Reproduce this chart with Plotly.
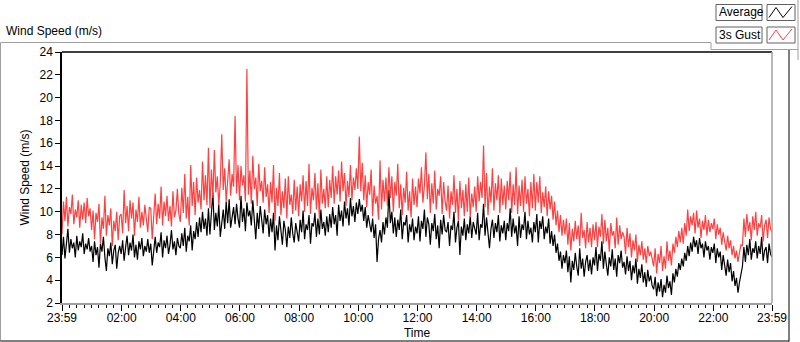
import pandas as pd
import plotly.graph_objects as go

# ---- data (3-minute samples), 23:59 -> 23:59, one row per hour ----
avg_h = [
    [6.2, 7.8, 5.9, 7.1, 8.5, 6.4, 7.6, 6.8, 7.3, 6.0, 7.9, 6.6, 7.4, 6.9, 8.1, 6.3, 7.2, 6.7, 7.7, 6.5],
    [7.0, 5.6, 7.4, 6.2, 6.9, 5.1, 7.2, 6.5, 7.8, 6.0, 4.8, 6.8, 6.1, 7.3, 5.4, 6.6, 7.1, 5.0, 6.4, 7.0],
    [6.3, 7.5, 5.7, 6.9, 7.9, 6.2, 7.3, 6.6, 8.0, 6.0, 7.1, 5.8, 7.4, 6.7, 7.7, 6.1, 7.0, 6.5, 7.6, 6.4],
    [7.2, 5.3, 6.6, 7.8, 6.4, 7.3, 6.9, 8.2, 6.0, 7.5, 6.8, 7.9, 6.3, 7.1, 8.4, 6.7, 7.4, 6.2, 7.7, 7.0],
    [6.8, 8.1, 7.0, 8.6, 6.5, 7.9, 7.4, 8.8, 6.6, 8.3, 7.6, 9.1, 7.8, 9.5, 8.2, 10.0, 8.5, 9.4, 7.9, 10.3],
    [8.0, 9.6, 11.7, 8.4, 9.9, 8.7, 10.6, 7.8, 9.3, 10.2, 8.5, 10.9, 9.0, 11.1, 8.6, 9.8, 10.4, 8.9, 10.7, 9.4],
    [8.6, 11.4, 9.1, 10.3, 8.3, 10.8, 9.6, 10.1, 8.8, 11.0, 9.3, 7.6, 9.9, 8.5, 10.5, 9.0, 8.1, 10.2, 8.9, 9.7],
    [7.8, 9.4, 8.2, 9.9, 6.6, 8.8, 7.5, 9.6, 8.0, 7.1, 9.2, 8.4, 6.9, 8.7, 7.7, 9.5, 8.1, 7.3, 9.0, 8.3],
    [7.4, 9.3, 8.2, 10.1, 7.6, 8.9, 8.4, 9.7, 7.2, 9.0, 8.7, 9.9, 7.8, 9.4, 8.0, 10.2, 8.5, 9.1, 7.9, 9.6],
    [8.2, 9.8, 8.6, 10.4, 8.9, 9.7, 7.9, 10.6, 9.2, 10.1, 8.7, 10.9, 9.4, 10.3, 8.8, 11.2, 9.6, 10.5, 9.1, 10.8],
    [9.8, 11.1, 10.0, 10.6, 9.2, 10.4, 8.6, 9.7, 9.0, 8.2, 9.4, 7.7, 8.9, 5.6, 7.6, 8.4, 7.3, 9.1, 8.0, 9.5],
    [8.6, 11.9, 9.0, 10.0, 8.1, 9.5, 7.8, 9.3, 8.4, 10.2, 7.6, 9.1, 8.8, 9.7, 7.3, 8.9, 8.2, 9.4, 7.5, 8.7],
    [8.1, 9.6, 7.4, 9.2, 8.5, 10.2, 7.8, 9.5, 8.9, 7.1, 9.0, 8.3, 9.8, 7.6, 8.8, 6.8, 9.3, 8.0, 9.7, 8.4],
    [8.2, 9.1, 7.0, 8.8, 8.4, 10.0, 7.3, 8.6, 9.2, 6.2, 8.7, 7.9, 9.4, 7.5, 8.9, 8.1, 9.6, 7.7, 9.1, 8.5],
    [8.0, 9.9, 7.5, 8.9, 8.6, 10.7, 7.9, 9.5, 8.3, 6.8, 8.5, 9.3, 7.7, 9.0, 8.2, 9.7, 7.4, 8.8, 8.1, 9.2],
    [7.5, 9.0, 8.3, 10.3, 7.8, 9.4, 8.1, 8.8, 7.0, 9.6, 7.7, 8.9, 8.4, 10.0, 7.6, 9.2, 8.0, 8.6, 7.3, 9.1],
    [8.2, 9.8, 7.3, 9.2, 8.5, 9.6, 7.6, 8.7, 8.1, 9.4, 7.2, 8.3, 7.0, 8.0, 6.4, 7.2, 5.7, 6.5, 5.0, 6.2],
    [5.5, 6.6, 4.7, 6.1, 3.8, 5.7, 4.9, 6.4, 5.2, 4.4, 6.8, 5.0, 5.9, 4.3, 5.6, 6.2, 4.8, 5.8, 4.5, 6.0],
    [5.3, 6.9, 4.8, 6.3, 5.7, 7.4, 5.0, 6.5, 5.4, 4.4, 6.0, 5.2, 6.7, 4.9, 5.9, 4.3, 6.2, 5.5, 6.6, 5.1],
    [5.6, 4.5, 6.1, 4.8, 5.7, 4.0, 5.3, 4.6, 5.9, 3.7, 5.0, 4.2, 5.4, 3.8, 4.7, 3.4, 4.9, 3.9, 4.4, 3.5],
    [3.2, 4.3, 2.6, 3.8, 3.0, 4.1, 2.5, 3.6, 2.9, 4.4, 3.3, 3.9, 2.7, 4.6, 3.8, 5.0, 4.3, 5.5, 4.9, 5.9],
    [5.2, 6.4, 5.7, 7.0, 6.1, 7.3, 6.5, 7.8, 6.9, 7.5, 6.3, 7.7, 6.8, 7.2, 6.0, 7.4, 6.6, 7.0, 5.8, 6.9],
    [6.4, 7.2, 5.5, 6.8, 6.0, 6.5, 4.9, 6.2, 5.3, 4.4, 5.8, 4.7, 5.5, 3.9, 4.8, 3.5, 4.2, 2.9, 3.8, 4.6],
    [5.2, 6.9, 5.6, 7.1, 6.2, 7.6, 5.8, 6.8, 6.4, 7.4, 5.9, 7.0, 6.3, 7.8, 5.7, 6.6, 6.9, 5.5, 7.2, 6.3],
]
avg_last = 6.0

gust_h = [
    [8.0, 10.9, 9.2, 11.3, 8.7, 10.4, 9.8, 11.5, 8.9, 10.2, 9.5, 11.0, 8.6, 10.6, 9.3, 10.8, 9.0, 11.2, 9.6, 10.3],
    [8.4, 10.1, 7.6, 9.9, 9.1, 10.7, 7.2, 9.5, 8.5, 11.4, 7.9, 9.7, 8.8, 10.3, 7.0, 9.2, 8.3, 10.0, 7.5, 9.6],
    [9.8, 8.1, 11.9, 9.0, 10.5, 8.3, 11.0, 9.4, 10.8, 7.9, 10.2, 9.1, 11.3, 8.6, 10.0, 8.8, 10.6, 9.3, 8.2, 10.4],
    [10.3, 7.6, 9.9, 11.6, 8.9, 10.7, 9.4, 12.2, 8.8, 10.9, 9.6, 11.4, 9.2, 10.5, 8.7, 11.8, 9.5, 10.1, 12.0, 9.8],
    [9.1, 12.1, 9.9, 13.3, 9.4, 11.3, 8.8, 14.1, 10.5, 12.6, 9.7, 13.0, 10.8, 11.9, 10.2, 14.4, 11.0, 13.2, 10.6, 15.6],
    [10.3, 13.7, 11.2, 15.4, 11.7, 13.1, 10.6, 12.5, 16.8, 11.9, 13.8, 10.9, 12.7, 14.6, 11.4, 13.3, 12.2, 18.4, 11.6, 14.1],
    [11.0, 14.0, 12.3, 13.2, 10.9, 22.5, 11.5, 13.6, 10.7, 14.9, 12.0, 13.0, 10.5, 14.2, 11.8, 12.7, 10.8, 13.9, 11.3, 12.4],
    [9.9, 12.6, 10.8, 14.1, 9.2, 12.1, 10.5, 13.4, 9.7, 11.8, 10.3, 12.9, 9.4, 13.1, 10.6, 11.5, 9.8, 12.8, 10.1, 12.2],
    [9.6, 12.4, 10.9, 13.2, 10.0, 12.7, 10.5, 14.2, 9.8, 12.1, 11.0, 13.4, 10.2, 12.5, 9.4, 13.7, 10.7, 12.0, 10.3, 13.1],
    [10.4, 12.8, 11.2, 14.0, 10.7, 13.1, 11.5, 13.6, 10.9, 14.4, 11.8, 13.4, 10.5, 12.7, 11.3, 14.1, 11.0, 13.0, 11.9, 13.8],
    [12.0, 16.6, 11.8, 14.3, 11.0, 13.2, 10.4, 12.6, 11.5, 13.7, 9.6, 12.3, 10.7, 11.4, 9.3, 14.5, 10.2, 12.8, 10.9, 13.0],
    [10.5, 13.9, 11.2, 13.1, 10.0, 12.6, 11.4, 14.2, 10.3, 12.4, 9.7, 12.1, 10.8, 13.5, 10.1, 11.8, 9.5, 12.9, 10.6, 12.2],
    [10.4, 12.9, 11.6, 13.9, 10.8, 12.3, 15.2, 11.1, 13.3, 9.9, 12.5, 10.7, 13.6, 10.2, 12.0, 11.4, 13.1, 9.8, 12.6, 10.9],
    [10.1, 12.3, 9.4, 11.8, 10.6, 13.2, 9.9, 12.0, 9.2, 12.7, 10.3, 11.9, 9.6, 12.4, 10.0, 13.0, 9.5, 11.6, 10.4, 12.2],
    [10.0, 13.1, 10.9, 12.6, 11.2, 15.8, 10.4, 13.4, 9.7, 12.2, 10.8, 13.8, 10.1, 12.5, 11.0, 13.2, 9.9, 12.9, 10.6, 12.3],
    [10.2, 12.7, 11.0, 13.5, 9.9, 12.4, 10.6, 13.9, 9.8, 12.3, 10.5, 12.8, 10.0, 13.1, 10.7, 12.0, 9.6, 12.6, 10.3, 13.3],
    [10.1, 12.6, 10.8, 13.1, 9.9, 11.7, 10.4, 12.2, 9.6, 11.8, 10.2, 11.4, 9.3, 10.9, 8.8, 10.1, 8.2, 9.7, 7.9, 9.3],
    [8.0, 9.4, 7.1, 9.0, 6.6, 8.5, 7.4, 9.2, 7.6, 8.8, 7.0, 9.9, 7.7, 8.4, 6.8, 9.1, 7.3, 8.6, 6.9, 8.9],
    [7.5, 9.1, 6.9, 8.7, 7.8, 9.8, 7.2, 9.3, 7.4, 8.6, 6.5, 9.0, 7.9, 8.3, 6.8, 9.5, 7.1, 8.8, 7.6, 8.2],
    [7.8, 6.3, 8.6, 6.9, 8.1, 6.0, 7.5, 6.6, 8.0, 5.6, 7.1, 6.2, 7.4, 5.8, 6.8, 5.5, 7.0, 6.1, 6.5, 5.7],
    [5.2, 6.8, 4.6, 6.3, 5.5, 7.0, 4.8, 6.1, 5.0, 7.4, 5.7, 6.6, 5.3, 7.2, 6.4, 7.8, 6.9, 8.3, 7.3, 8.6],
    [7.2, 9.0, 7.9, 10.2, 8.3, 9.6, 8.8, 9.9, 8.1, 10.1, 8.6, 9.4, 7.7, 9.2, 8.4, 9.7, 7.9, 9.3, 8.2, 9.0],
    [8.5, 9.4, 7.6, 8.9, 8.0, 8.6, 7.1, 8.2, 7.4, 6.6, 7.9, 6.8, 7.5, 6.2, 7.0, 5.9, 6.6, 5.6, 6.4, 7.1],
    [7.0, 9.4, 7.8, 9.8, 8.3, 9.1, 7.5, 9.6, 8.4, 10.0, 7.9, 9.0, 8.6, 9.7, 7.4, 8.8, 9.3, 7.7, 9.5, 8.5],
]
gust_last = 8.2

avg_values = [v for h in avg_h for v in h] + [avg_last]
gust_values = [v for h in gust_h for v in h] + [gust_last]

series_names = ["Average", "3s Gust"]
y_ticks = list(range(2, 25, 2))
x_tick_labels = ["23:59", "02:00", "04:00", "06:00", "08:00", "10:00", "12:00",
                 "14:00", "16:00", "18:00", "20:00", "22:00", "23:59"]

start = pd.Timestamp("2024-01-01 23:59")
end = pd.Timestamp("2024-01-02 23:59")
times = pd.date_range(start, periods=len(avg_values), freq="3min")

major = [start] + [pd.Timestamp("2024-01-02") + pd.Timedelta(hours=h) for h in range(2, 24, 2)] + [end]
minor = []
t = start + pd.Timedelta(minutes=15)
while t < end:
    if min(abs((t - m).total_seconds()) for m in major) > 240:
        minor.append(t)
    t += pd.Timedelta(minutes=15)

# ---- layout geometry ----
W, H = 800, 342
L, R, T, B = 62, 772, 52, 303
pw, ph = R - L, B - T


def px(x):
    return (x - L) / pw


def py(y):
    return (B - y) / ph


FONT = "Liberation Sans"

fig = go.Figure()
fig.add_trace(go.Scatter(x=times, y=avg_values, mode="lines", name=series_names[0],
                         line=dict(color="#000000", width=1.2)))
fig.add_trace(go.Scatter(x=times, y=gust_values, mode="lines", name=series_names[1],
                         line=dict(color="#ff4040", width=1.2)))

shapes = []


def line(x0, y0, x1, y1, color, width=1):
    shapes.append(dict(type="line", xref="paper", yref="paper",
                       x0=px(x0), y0=py(y0), x1=px(x1), y1=py(y1),
                       line=dict(color=color, width=width), layer="above"))


# outer frame
line(0.5, 42.5, 711, 42.5, "#a0a0a0")
line(0.5, 42.5, 0.5, 341.5, "#a0a0a0")
line(0.5, 341, 789, 341, "#000000")
line(789, 49, 789, 341.5, "#000000")
# legend panel
line(711, 42.5, 711, 49.5, "#a0a0a0")
line(711, 49.5, 798, 49.5, "#a0a0a0")
line(798, 0, 798, 60, "#a0a0a0")
# plot-area frame (top black, right gray)
line(L, T, R, T, "#000000", 1.5)
line(R, T, R, B, "#a0a0a0", 1.5)

# legend boxes
annotations = []
for i, (name, color) in enumerate(zip(series_names, ["#000000", "#ff4040"])):
    y0 = 4.5 + i * 22.5
    y1 = y0 + 16
    for (a, b) in [(716, 762), (767, 795)]:
        shapes.append(dict(type="rect", xref="paper", yref="paper",
                           x0=px(a), x1=px(b), y0=py(y1), y1=py(y0),
                           line=dict(color="#606060", width=1), fillcolor="white", layer="above"))
    pts = [(769, y1 - 3), (776, y0 + 3), (783, y1 - 3), (792, y0 + 2)]
    path = "M " + " L ".join(f"{px(a)},{py(b)}" for a, b in pts)
    shapes.append(dict(type="path", xref="paper", yref="paper", path=path,
                       line=dict(color=color, width=1), layer="above"))
    annotations.append(dict(text=name, xref="paper", yref="paper", x=px(717), y=py((y0 + y1) / 2),
                            xanchor="left", yanchor="middle", showarrow=False,
                            font=dict(family=FONT, size=12, color="#000000")))

annotations.append(dict(text="Wind Speed (m/s)", xref="paper", yref="paper", x=px(4), y=py(31),
                        xanchor="left", yanchor="middle", showarrow=False,
                        font=dict(family=FONT, size=12, color="#000000")))

fig.update_layout(
    width=W, height=H,
    margin=dict(l=L, r=W - R, t=T, b=H - B, pad=0, autoexpand=False),
    paper_bgcolor="white", plot_bgcolor="white",
    showlegend=False,
    font=dict(family=FONT, size=11, color="#000000"),
    shapes=shapes, annotations=annotations,
    xaxis=dict(
        type="date", range=[start, end], tickmode="array", tickvals=major, ticktext=x_tick_labels,
        ticks="outside", ticklen=6, tickcolor="#000000", tickwidth=1, automargin=False,
        showline=True, linecolor="#a0a0a0", linewidth=1.5, showgrid=False, zeroline=False,
        tickfont=dict(family=FONT, size=12, color="#000000"), ticklabelstandoff=-3,
        minor=dict(tickmode="array", tickvals=minor, ticks="outside", ticklen=3,
                   tickcolor="#000000", showgrid=False),
        title=dict(text="Time", standoff=4, font=dict(family=FONT, size=12, color="#000000")),
    ),
    yaxis=dict(
        range=[2, 24], tickmode="array", tickvals=y_ticks, automargin=False,
        ticks="outside", ticklen=5, tickcolor="#000000",
        showline=True, linecolor="#000000", linewidth=1.5, showgrid=False, zeroline=False,
        tickfont=dict(family=FONT, size=12, color="#000000"),
        title=dict(text="Wind Speed (m/s)", standoff=7, font=dict(family=FONT, size=12, color="#000000")),
    ),
)

fig.write_html("out.html", config={"displayModeBar": False},
               post_script="document.body.style.margin='0px';document.body.style.overflow='hidden';")
